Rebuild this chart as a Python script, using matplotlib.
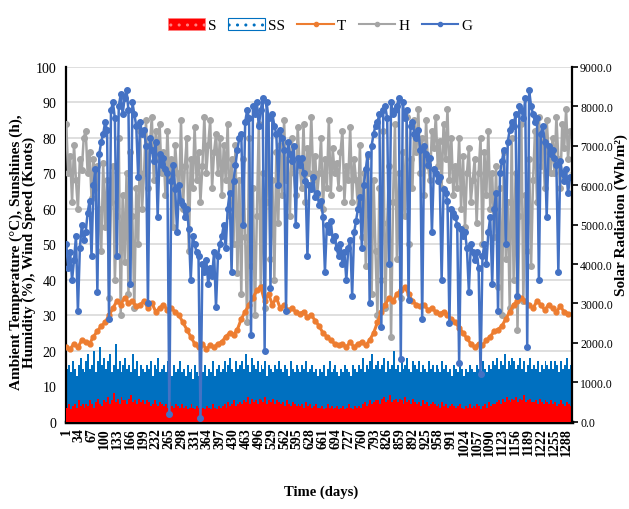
import numpy as np
import matplotlib.pyplot as plt
from matplotlib.patches import Patch
from matplotlib.lines import Line2D

plt.rcParams['font.family'] = ['Liberation Serif', 'DejaVu Serif']

# sampling of the daily record
days5 = np.arange(1, 1300, 5)
days10 = np.arange(1, 1300, 10)
xticks = np.arange(1, 1289, 33)

# G - solar radiation (Wh/m2), every 5 days
G = [4500, 3900, 4300, 3600, 4100, 4700, 2800, 4400, 5000, 4600,
     4800, 5300, 5600, 4200, 6000, 6400, 3300, 6800, 7100, 7300,
     7600, 7400, 2600, 7900, 8100, 7700, 4200, 8000, 8300, 7800,
     8200, 8400, 7900, 3500, 8100, 7800, 7500, 6200, 7600, 7300,
     7400, 7000, 3000, 7200, 6900, 6600, 7100, 5200, 6800, 6500,
     6700, 6400, 6300, 200, 6100, 6500, 5900, 4800, 6000, 5600,
     5500, 5200, 5400, 4900, 3600, 4700, 4500, 4300, 4200, 100,
     4000, 3800, 4100, 3500, 3900, 3700, 4300, 2900, 4200, 4500,
     4700, 5000, 4400, 5400, 5800, 3800, 6100, 6500, 6900, 7200,
     7300, 5000, 7600, 7900, 7700, 2200, 8000, 7800, 8100, 7500,
     7900, 8200, 1800, 8100, 7700, 3400, 7800, 7500, 7300, 6000,
     7400, 7200, 6900, 2800, 7100, 6800, 6600, 7000, 5000, 6700,
     6500, 6700, 6300, 6100, 4200, 6000, 5900, 6200, 5700, 5800,
     5500, 5600, 5200, 3800, 5000, 4800, 5100, 4600, 4700, 4400,
     4200, 4500, 4000, 4300, 3600, 4400, 4600, 3200, 4800, 5100,
     5400, 5700, 4400, 6000, 6400, 6800, 3000, 7000, 7300, 7500,
     7600, 7800, 2400, 7900, 8000, 7700, 4000, 8100, 7800, 7900,
     8000, 8200, 1600, 8100, 7700, 7900, 3100, 7500, 7600, 7300,
     7200, 7400, 6900, 2600, 7000, 6800, 6500, 6700, 4800, 6400,
     6300, 6100, 6200, 3600, 5900, 5800, 5600, 2500, 5400, 5300,
     5200, 5000, 1500, 4900, 4700, 4800, 4400, 3300, 4500, 4300,
     4100, 4300, 3900, 1200, 4200, 4500, 4000, 4800, 5200, 3500,
     5400, 5800, 2800, 6300, 6600, 6900, 4500, 7100, 7400, 7600,
     7500, 7800, 3200, 8000, 7900, 7700, 8200, 1900, 8400, 8000,
     7800, 7600, 7700, 3600, 7300, 7500, 7100, 5200, 7000, 6800,
     6900, 6700, 6500, 3800, 6600, 6300, 6100, 6400, 5800, 6200]

# H - humidity (%), every 5 days
H = [84, 70, 75, 62, 78, 68, 60, 74, 71, 80,
     82, 70, 76, 63, 74, 66, 72, 60, 48, 73,
     55, 68, 35, 62, 72, 40, 58, 80, 30, 64,
     45, 70, 36, 76, 58, 32, 66, 50, 82, 60,
     70, 85, 66, 78, 86, 68, 82, 74, 84, 70,
     76, 64, 82, 68, 74, 55, 78, 70, 62, 85,
     60, 72, 80, 48, 74, 66, 83, 68, 76, 62,
     72, 86, 70, 78, 85, 66, 76, 81, 70, 80,
     64, 78, 68, 84, 58, 74, 50, 78, 42, 68,
     36, 74, 52, 28, 80, 44, 66, 30, 58, 84,
     38, 70, 32, 62, 86, 46, 68, 40, 76, 56,
     78, 64, 85, 68, 74, 58, 80, 70, 64, 83,
     72, 66, 84, 62, 77, 70, 86, 68, 75, 64,
     70, 80, 60, 74, 66, 85, 64, 77, 70, 73,
     66, 76, 82, 62, 72, 68, 83, 62, 74, 68,
     60, 78, 52, 70, 44, 75, 58, 36, 68, 48,
     30, 66, 40, 82, 32, 56, 72, 24, 62, 84,
     46, 70, 35, 76, 58, 86, 50, 74, 66, 85,
     76, 88, 70, 80, 64, 85, 72, 68, 82, 77,
     86, 72, 79, 66, 84, 74, 88, 68, 80, 64,
     72, 66, 80, 60, 75, 55, 70, 77, 62, 68,
     74, 56, 70, 80, 50, 76, 64, 82, 60, 70,
     52, 72, 38, 66, 30, 76, 46, 62, 32, 80,
     40, 70, 26, 58, 84, 34, 64, 48, 74, 44,
     68, 82, 62, 86, 72, 79, 66, 85, 76, 70,
     80, 70, 86, 74, 66, 84, 77, 88, 74, 82]

# T - ambient temperature (C), every 10 days
T = [21, 20.5, 22, 21, 23, 22.5, 22, 24, 25.5, 27,
     28, 30, 32, 34, 33, 35, 33.5, 34, 32.5, 33,
     34, 32, 33.5, 31, 32, 33, 31.5, 32, 31, 30,
     28, 26, 24, 22, 21, 22, 20.5, 21.5, 21, 22,
     22.5, 24, 25, 24.5, 26, 29, 31, 33, 35, 37,
     38, 34, 36, 33, 35, 32, 33, 31.5, 32, 31,
     30.5, 31, 29.5, 30, 28.5, 27, 25, 24, 23, 22,
     21.5, 22, 21, 22.5, 21, 22, 22.5, 21.5, 23, 25,
     28, 31, 33, 35, 34, 36, 37, 38, 36, 34,
     33, 32.5, 33, 31.5, 32, 31, 30.5, 31, 30, 29,
     28, 26.5, 25, 23.5, 22, 21, 22, 21.5, 23, 24,
     25.5, 26, 27, 29, 31, 33, 34, 35, 34, 33,
     32, 34, 33, 31.5, 33, 32, 31, 32.5, 31, 30.5]

# SS - sunshine (h), every 5 days
SS = [15, 16, 14, 17, 15, 13, 16, 18, 15, 14,
      17, 19, 15, 16, 20, 14, 17, 21, 16, 18,
      15, 17, 19, 14, 16, 22, 15, 17, 14, 16,
      18, 15, 16, 14, 19, 15, 17, 13, 16, 15,
      14, 16, 15, 17, 13, 16, 15, 18, 14, 15,
      16, 14, 17, 15, 13, 16, 14, 15, 17, 14,
      15, 13, 16, 14, 15, 12, 16, 14, 13, 15,
      14, 16, 13, 15, 14, 17, 13, 15, 16, 14,
      15, 17, 14, 16, 18, 15, 14, 17, 15, 16,
      17, 15, 19, 16, 14, 18, 16, 15, 17, 14,
      16, 15, 17, 13, 16, 15, 14, 16, 15, 17,
      15, 14, 16, 15, 13, 17, 15, 14, 16, 15,
      14, 16, 15, 17, 14, 15, 16, 14, 15, 13,
      15, 14, 16, 13, 15, 17, 14, 15, 16, 14,
      13, 15, 14, 16, 15, 14, 13, 16, 15, 14,
      16, 15, 18, 14, 16, 15, 17, 19, 15, 16,
      17, 15, 16, 18, 14, 17, 15, 16, 20, 15,
      16, 14, 17, 15, 16, 18, 15, 14, 17, 16,
      15, 17, 14, 16, 15, 14, 17, 15, 16, 14,
      16, 15, 14, 17, 15, 16, 14, 15, 13, 16,
      15, 14, 16, 15, 13, 15, 14, 16, 15, 14,
      14, 16, 15, 13, 17, 15, 14, 16, 15, 17,
      16, 18, 15, 17, 16, 19, 15, 17, 16, 18,
      17, 15, 16, 18, 15, 17, 14, 16, 18, 15,
      16, 15, 17, 14, 16, 15, 17, 16, 15, 17,
      15, 17, 16, 14, 17, 15, 16, 18, 15, 16]

# S - wind speed (knots), every 5 days
S = [4, 5, 3.5, 4.5, 5, 4, 6, 4.5, 5, 4,
     5, 4.5, 6, 5, 4, 5.5, 6.5, 5, 4.5, 6,
     5.5, 7, 5, 6, 8, 5.5, 6.5, 5, 7, 6,
     6, 5, 6.5, 7.5, 5.5, 6, 5, 6.5, 5.5, 6,
     5, 6, 5.5, 4.5, 5, 6, 5, 4.5, 5.5, 5,
     4.5, 5, 4, 5.5, 4.5, 4, 5, 4.5, 4, 5,
     4, 4.5, 3.5, 4, 5, 4, 3.5, 4.5, 4, 3.5,
     4, 3.5, 4.5, 4, 3.5, 5, 4, 3.5, 4.5, 4,
     4.5, 5, 4, 5.5, 4.5, 5, 6, 4.5, 5, 5.5,
     5, 6, 5.5, 7, 5, 6.5, 5.5, 6, 5, 6.5,
     6, 5.5, 7, 5, 6, 5.5, 6.5, 5, 6, 5.5,
     5, 5.5, 4.5, 6, 5, 4.5, 5.5, 5, 4.5, 5,
     4.5, 5, 4, 5.5, 4.5, 5, 4, 4.5, 5, 4,
     4, 4.5, 3.5, 4, 5, 4, 4.5, 3.5, 4, 4.5,
     3.5, 4, 4.5, 3.5, 4, 5, 4, 3.5, 4.5, 4,
     4.5, 4, 5, 5.5, 4.5, 5, 6, 5, 5.5, 6,
     6, 5, 6.5, 7, 5.5, 6, 7.5, 5.5, 6, 6.5,
     5.5, 6.5, 6, 5, 7, 5.5, 6, 5, 6.5, 5.5,
     5, 5.5, 4.5, 6, 5, 5.5, 4.5, 5, 5.5, 5,
     4.5, 5, 4, 5.5, 4.5, 5, 4, 4.5, 5, 4.5,
     4, 4.5, 5, 4, 3.5, 4.5, 4, 5, 4, 4.5,
     4, 5, 4.5, 3.5, 4.5, 5, 4, 5.5, 4.5, 5,
     5, 5.5, 6, 5, 6.5, 5.5, 7, 6, 5.5, 6.5,
     6, 7, 5.5, 6.5, 6, 7.5, 5.5, 6, 6.5, 5.5,
     5.5, 6, 5, 6.5, 5.5, 5, 6, 5.5, 5, 6,
     5, 5.5, 4.5, 5, 6, 5, 4.5, 5.5, 5, 4.5]

c_s = '#FF0000'
c_ss = '#0070C0'
c_t = '#ED7D31'
c_h = '#A5A5A5'
c_g = '#4472C4'

fig = plt.figure(figsize=(6.29, 5.10), dpi=100)
ax = fig.add_axes([0.105, 0.171, 0.804, 0.696])

ax.bar(days5 - 0.5, SS, width=5, align='edge', color=c_ss, linewidth=0, zorder=2)
ax.bar(days5 - 0.5, S, width=5, align='edge', color=c_s, linewidth=0, zorder=3)
ax.plot(days5, H, color=c_h, lw=1.8, marker='o', ms=4, zorder=4)
ax.plot(days10, T, color=c_t, lw=2.2, marker='o', ms=3.5, zorder=5)

ax.set_xlim(0.5, 1300.5)
ax.set_ylim(0, 100)
ax.set_yticks(np.arange(0, 101, 10))
ax.yaxis.grid(True, color='#D9D9D9', lw=1.2, zorder=0)
ax.set_axisbelow(True)
ax.set_xticks(xticks)
ax.set_xticklabels([str(d) for d in xticks], rotation=90, fontsize=10,
                   fontweight='bold')
ax.tick_params(axis='x', length=0, pad=4)
ax.tick_params(axis='y', length=0, pad=7, labelsize=10)
ax.spines['top'].set_visible(False)
ax.spines['right'].set_visible(False)
ax.spines['left'].set_linewidth(1.6)
ax.spines['bottom'].set_linewidth(2.5)

ax2 = ax.twinx()
ax2.plot(days5, G, color=c_g, lw=1.8, marker='o', ms=4)
ax2.set_ylim(0, 9000)
ax2.set_yticks(np.arange(0, 9001, 1000))
ax2.set_yticklabels(['%.1f' % v for v in np.arange(0, 9001, 1000)])
ax2.tick_params(axis='y', length=4, width=1.2, pad=2, labelsize=8.5)
ax2.spines['top'].set_visible(False)
ax2.spines['left'].set_visible(False)
ax2.spines['bottom'].set_visible(False)
ax2.spines['right'].set_linewidth(1.6)

fig.text(0.036, 0.505, 'Ambient Temperature (\u00b0C), Sunshines (h),\nHumidity (%), Wind Speed (Knots)',
         rotation=90, ha='center', va='center', fontsize=11, fontweight='bold',
         linespacing=1.0, multialignment='center')
fig.text(0.988, 0.578, 'Solar Radiation (Wh/m\u00b2)', rotation=90, ha='center',
         va='center', fontsize=11, fontweight='bold')
fig.text(0.51, 0.035, 'Time (days)', ha='center', va='center', fontsize=10.5,
         fontweight='bold')

handles = [Patch(facecolor=c_s, edgecolor='#FF8080', hatch='..', lw=0.5),
           Patch(facecolor='white', edgecolor=c_ss, hatch='..', lw=0.8),
           Line2D([], [], color=c_t, lw=1.5, marker='o', ms=3),
           Line2D([], [], color=c_h, lw=1.5, marker='o', ms=3),
           Line2D([], [], color=c_g, lw=1.5, marker='o', ms=3)]
fig.legend(handles, ['S', 'SS', 'T', 'H', 'G'], loc='center',
           bbox_to_anchor=(0.509, 0.949), ncol=5, frameon=False, fontsize=11,
           handlelength=2.4, handleheight=0.8, handletextpad=0.2,
           columnspacing=0.8)

fig.savefig('out.png', dpi=100)
